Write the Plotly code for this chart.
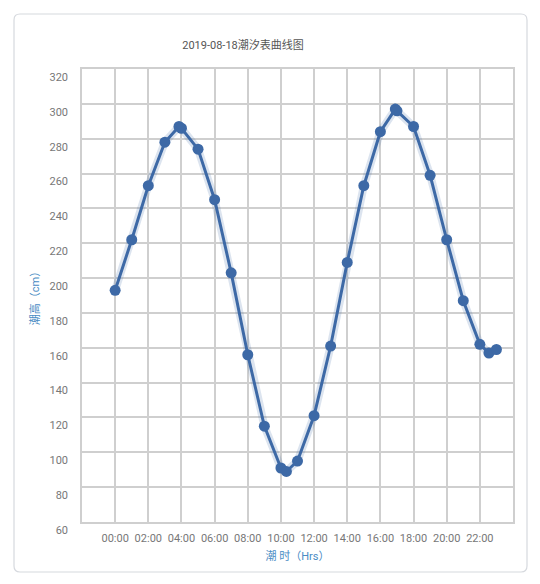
import plotly.graph_objects as go

# hourly tide heights plus the high / low water points
hours = [0, 1, 2, 3, 3.85, 4, 5, 6, 7, 8, 9, 10, 10.33, 11, 12, 13, 14,
         15, 16, 16.9, 17, 18, 19, 20, 21, 22, 22.55, 23]
heights = [193, 222, 253, 278, 287, 286, 274, 245, 203, 156, 115, 91, 89, 95,
           121, 161, 209, 253, 284, 297, 296, 287, 259, 222, 187, 162, 157, 159]

tick_hours = [0, 2, 4, 6, 8, 10, 12, 14, 16, 18, 20, 22]
tick_labels = ['00:00', '02:00', '04:00', '06:00', '08:00', '10:00',
               '12:00', '14:00', '16:00', '18:00', '20:00', '22:00']

# page body adds an 8px margin, so the figure is a bit smaller than the window
W, H = 524, 568
L, R, T, B = 74, 19, 61, 54
pw, ph = W - L - R, H - T - B

def px(x):
    return (x - L) / pw

def py(y):
    return (H - B - y) / ph

# rounded card behind the chart
x0, x1, y0, y1, r = 6, 519, 6, 564, 6
card = (f"M {px(x0 + r)},{py(y0)} L {px(x1 - r)},{py(y0)} "
        f"Q {px(x1)},{py(y0)} {px(x1)},{py(y0 + r)} L {px(x1)},{py(y1 - r)} "
        f"Q {px(x1)},{py(y1)} {px(x1 - r)},{py(y1)} L {px(x0 + r)},{py(y1)} "
        f"Q {px(x0)},{py(y1)} {px(x0)},{py(y1 - r)} L {px(x0)},{py(y0 + r)} "
        f"Q {px(x0)},{py(y0)} {px(x0 + r)},{py(y0)} Z")

fig = go.Figure()

# soft shadow under the line
fig.add_trace(go.Scatter(x=hours, y=heights, mode='lines',
                         line=dict(color='rgba(61,105,166,0.18)', width=8),
                         hoverinfo='skip', showlegend=False))

fig.add_trace(go.Scatter(x=hours, y=heights, mode='lines+markers',
                         line=dict(color='#3d69a6', width=3),
                         marker=dict(color='#3d69a6', size=11),
                         name='潮高', showlegend=False))

fig.update_layout(
    title=dict(text='2019-08-18潮汐表曲线图', x=235 / W, xref='container',
               xanchor='center', y=1 - 37 / H, yref='container', yanchor='middle',
               font=dict(size=11, color='#555')),
    xaxis=dict(range=[-2, 24], tickmode='array', tickvals=tick_hours,
               ticktext=tick_labels,
               showgrid=True, gridcolor='#cfcfcf', gridwidth=1.5,
               showline=True, mirror=True, linecolor='#cfcfcf', linewidth=1.5,
               zeroline=False, ticklabelstandoff=5,
               tickfont=dict(size=11, color='#777'),
               title=dict(text='潮 时（Hrs）', font=dict(size=11, color='#4a8cc4'),
                          standoff=8)),
    yaxis=dict(range=[60, 320], dtick=20, tick0=60,
               showgrid=True, gridcolor='#cfcfcf', gridwidth=1.5,
               showline=True, mirror=True, linecolor='#cfcfcf', linewidth=1.5,
               zeroline=False, ticklabelshift=8, ticklabelstandoff=10,
               tickfont=dict(size=11, color='#777'),
               title=dict(text='潮高（cm）', font=dict(size=11, color='#4a8cc4'),
                          standoff=8)),
    shapes=[dict(type='path', path=card, xref='paper', yref='paper',
                 line=dict(color='#d6d9de', width=1.2), layer='below')],
    font=dict(family='Roboto, "Noto Sans CJK SC", sans-serif'),
    plot_bgcolor='#fff', paper_bgcolor='#fff',
    width=W, height=H,
    margin=dict(l=L, r=R, t=T, b=B),
)

fig.write_html('out.html', config={'displayModeBar': False})
